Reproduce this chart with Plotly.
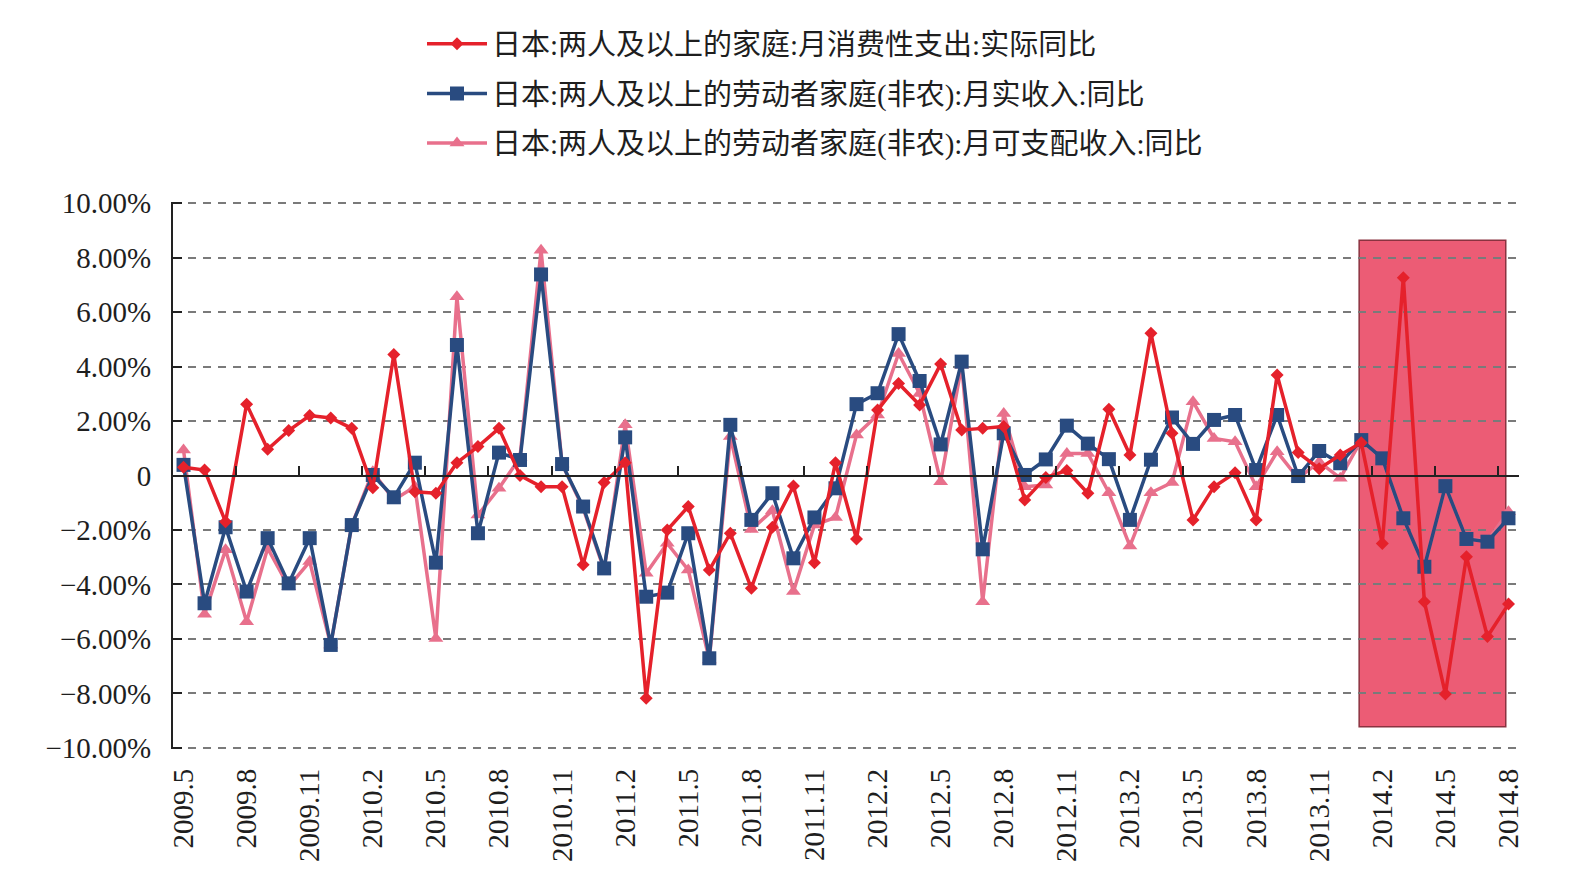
import plotly.graph_objects as go

# ---------------- data ----------------
categories = []
for yr, m0, m1 in [(2009, 5, 12), (2010, 1, 12), (2011, 1, 12), (2012, 1, 12), (2013, 1, 12), (2014, 1, 8)]:
    for m in range(m0, m1 + 1):
        categories.append(f"{yr}.{m}")

series_names = [
    "日本:两人及以上的家庭:月消费性支出:实际同比",
    "日本:两人及以上的劳动者家庭(非农):月实收入:同比",
    "日本:两人及以上的劳动者家庭(非农):月可支配收入:同比",
]

consumption = [
    0.3, 0.2, -1.7, 2.62, 0.96, 1.65, 2.2, 2.11, 1.73, -0.45, 4.44, -0.6, -0.65, 0.47, 1.06, 1.73,
    0.0, -0.41, -0.41, -3.28, -0.26, 0.47, -8.18, -2.0, -1.14, -3.47, -2.12, -4.14, -1.9, -0.39, -3.2, 0.47,
    -2.33, 2.4, 3.38, 2.59, 4.09, 1.67, 1.73, 1.8, -0.9, -0.07, 0.18, -0.65, 2.43, 0.75, 5.22, 1.55,
    -1.63, -0.41, 0.1, -1.63, 3.69, 0.84, 0.25, 0.75, 1.2, -2.5, 7.26, -4.63, -8.02, -2.98, -5.91, -4.72,
]

real_income = [
    0.39, -4.69, -1.9, -4.26, -2.3, -3.96, -2.3, -6.22, -1.82, 0.02, -0.8, 0.47, -3.2, 4.79, -2.12, 0.84,
    0.57, 7.38, 0.42, -1.14, -3.41, 1.4, -4.45, -4.3, -2.12, -6.71, 1.86, -1.63, -0.65, -3.04, -1.54, -0.47,
    2.62, 3.02, 5.19, 3.47, 1.14, 4.18, -2.71, 1.55, 0.02, 0.59, 1.83, 1.17, 0.6, -1.63, 0.58, 2.13,
    1.16, 2.04, 2.22, 0.2, 2.22, -0.02, 0.9, 0.45, 1.3, 0.63, -1.57, -3.35, -0.39, -2.33, -2.43, -1.57,
]

disposable_income = [
    0.94, -5.09, -2.73, -5.37, -2.67, -4.08, -3.16, -6.22, -1.82, 0.14, -0.9, -0.41, -5.98, 6.56, -1.45, -0.47,
    0.66, 8.27, 0.42, -1.2, -3.47, 1.86, -3.59, -2.49, -3.47, -6.77, 1.43, -1.98, -1.29, -4.26, -1.82, -1.54,
    1.49, 2.22, 4.48, 3.01, -0.23, 4.05, -4.63, 2.28, -0.41, -0.35, 0.81, 0.81, -0.63, -2.59, -0.63, -0.26,
    2.71, 1.36, 1.24, -0.41, 0.87, -0.1, 0.5, -0.1, 1.3, 0.6, -1.6, -3.35, -0.4, -2.3, -2.4, -1.33,
]

y_tick_values = [10, 8, 6, 4, 2, 0, -2, -4, -6, -8, -10]
y_tick_labels = ["10.00%", "8.00%", "6.00%", "4.00%", "2.00%", "0",
                 "−2.00%", "−4.00%", "−6.00%", "−8.00%", "−10.00%"]
x_tick_labels = categories[::3]
x_boundary_ticks = [2.5 + 3 * k for k in range(21)]

# highlighted period (2014 box)
highlight_x = (55.9, 62.87)
highlight_y = (-9.22, 8.64)

# ---------------- styling ----------------
RED = "#E5212B"
BLUE = "#294B80"
PINK = "#E8708C"
FONT = "Liberation Serif, Noto Sans CJK SC, serif"
TXT = "#1E1E1E"

fig = go.Figure()

fig.add_trace(go.Scatter(
    x=categories, y=disposable_income, name=series_names[2], mode="lines+markers",
    line=dict(color=PINK, width=3.5), marker=dict(symbol="triangle-up", size=13, color=PINK),
    legendrank=3, legendgroup="c"))
fig.add_trace(go.Scatter(
    x=categories, y=real_income, name=series_names[1], mode="lines+markers",
    line=dict(color=BLUE, width=3.5), marker=dict(symbol="square", size=14, color=BLUE),
    legendrank=2, legendgroup="b"))
fig.add_trace(go.Scatter(
    x=categories, y=consumption, name=series_names[0], mode="lines+markers",
    line=dict(color=RED, width=3.5), marker=dict(symbol="diamond", size=10, color=RED),
    legendrank=1, legendgroup="a"))
# empty trace that carries the zero-line axis
fig.add_trace(go.Scatter(x=[], y=[], xaxis="x2", yaxis="y", showlegend=False, hoverinfo="skip"))

fig.add_shape(type="rect", xref="x", yref="y",
              x0=highlight_x[0], x1=highlight_x[1], y0=highlight_y[0], y1=highlight_y[1],
              fillcolor="#EC5C75", line=dict(color="#8A3340", width=1.5), layer="below")

fig.update_layout(
    width=1586, height=883,
    margin=dict(l=173, r=67, t=202, b=134),
    paper_bgcolor="white", plot_bgcolor="white",
    font=dict(family=FONT, color=TXT, size=29),
    showlegend=True,
    legend=dict(
        x=(422 - 173) / 1346, xanchor="left",
        y=(748 - 20) / 545, yanchor="top",
        font=dict(family=FONT, size=29, color=TXT),
        itemwidth=60, tracegroupgap=9,
        bgcolor="rgba(0,0,0,0)",
    ),
    xaxis=dict(
        type="category", range=[-0.5, 63.5],
        tickmode="array", tickvals=x_tick_labels, ticktext=x_tick_labels,
        tickangle=-90, tickfont=dict(family=FONT, size=29, color=TXT),
        showgrid=False, showline=False, zeroline=False, ticks="",
        ticklabelstandoff=13,
    ),
    xaxis2=dict(
        type="linear", overlaying="x", anchor="free", position=0.5,
        range=[-0.5, 63.5], showgrid=False, zeroline=False,
        showline=True, linecolor="#222222", linewidth=2,
        ticks="inside", ticklen=9, tickwidth=2, tickcolor="#222222",
        tickmode="array", tickvals=x_boundary_ticks, showticklabels=False,
    ),
    yaxis=dict(
        range=[-10.04, 10.04], tickmode="array", tickvals=y_tick_values, ticktext=y_tick_labels,
        tickfont=dict(family=FONT, size=29, color=TXT),
        showgrid=True, gridcolor="#7A7A7A", gridwidth=1.5, griddash="8px,7px",
        zeroline=False, showline=True, linecolor="#222222", linewidth=2,
        ticks="inside", ticklen=9, tickwidth=2, tickcolor="#222222",
        ticklabelstandoff=14,
    ),
)

fig.write_html("out.html")
